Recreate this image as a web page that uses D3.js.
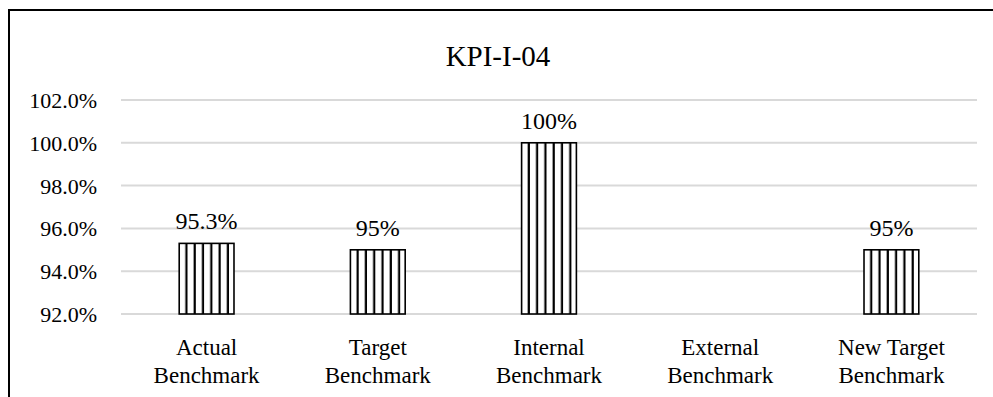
<!DOCTYPE html>
<html>
<head>
<meta charset="utf-8">
<script src="https://cdn.jsdelivr.net/npm/d3@7"></script>
<style>
  html, body { margin: 0; padding: 0; background: #fff; }
  svg { display: block; }
  svg text { font-family: "Liberation Serif", "DejaVu Serif", serif !important; fill: #000; }
</style>
</head>
<body>
<svg id="chart" width="993" height="397"></svg>
<script>
// KPI-I-04 benchmark comparison
const title = "KPI-I-04";
const categories = [
  ["Actual", "Benchmark"],
  ["Target", "Benchmark"],
  ["Internal", "Benchmark"],
  ["External", "Benchmark"],
  ["New Target", "Benchmark"]
];
const values = [0.953, 0.95, 1.00, null, 0.95];
const valueLabels = ["95.3%", "95%", "100%", "", "95%"];
const yTicks = [0.92, 0.94, 0.96, 0.98, 1.00, 1.02];

const svg = d3.select("#chart");
const W = 993, H = 397;
const plot = { left: 121, right: 977, top: 100, bottom: 314 };
const SERIF = "'Liberation Serif', serif";

// chart frame (top and left edges visible)
svg.append("path")
  .attr("d", `M9,${H} L9,10 L${W},10`)
  .attr("fill", "none")
  .attr("stroke", "#000")
  .attr("stroke-width", 2);

const x = d3.scaleBand()
  .domain(categories.map((c, i) => i))
  .range([plot.left, plot.right])
  .paddingInner(0.68)
  .paddingOuter(0.34);

const y = d3.scaleLinear()
  .domain([0.92, 1.02])
  .range([plot.bottom, plot.top]);

// gridlines
svg.append("g")
  .selectAll("line")
  .data(yTicks)
  .join("line")
  .attr("x1", plot.left)
  .attr("x2", plot.right)
  .attr("y1", d => y(d))
  .attr("y2", d => y(d))
  .attr("stroke", "#d9d9d9")
  .attr("stroke-width", 2);

// y axis labels
const yAxis = d3.axisLeft(y).tickValues(yTicks).tickFormat(d3.format(".1%")).tickSize(0).tickPadding(0);
const yg = svg.append("g").attr("transform", `translate(97,0)`).call(yAxis)
  .attr("font-family", SERIF).attr("font-size", 22);
yg.select(".domain").remove();
yg.selectAll("text")
  .style("font-family", SERIF)
  .style("font-size", "22px")
  .attr("dy", "0.34em");

// striped fill, one pattern per bar so stripes start at the bar edge
const defs = svg.append("defs");
const step = 8.3;
values.forEach((v, i) => {
  if (v == null) return;
  const p = defs.append("pattern")
    .attr("id", "stripe" + i)
    .attr("patternUnits", "userSpaceOnUse")
    .attr("x", x(i))
    .attr("y", 0)
    .attr("width", step)
    .attr("height", 10);
  p.append("rect").attr("width", step).attr("height", 10).attr("fill", "#fff");
  p.append("rect").attr("x", step - 2.2).attr("width", 2.2).attr("height", 10).attr("fill", "#000");
});

const barData = values.map((v, i) => ({ i, v })).filter(d => d.v != null);

svg.append("g")
  .selectAll("rect")
  .data(barData)
  .join("rect")
  .attr("x", d => x(d.i))
  .attr("width", x.bandwidth())
  .attr("y", d => y(d.v))
  .attr("height", d => y(0.92) - y(d.v))
  .attr("fill", d => `url(#stripe${d.i})`)
  .attr("stroke", "#000")
  .attr("stroke-width", 1.6);

// value labels
svg.append("g")
  .selectAll("text")
  .data(barData)
  .join("text")
  .attr("x", d => x(d.i) + x.bandwidth() / 2)
  .attr("y", d => y(d.v) - 14)
  .attr("text-anchor", "middle")
  .style("font-family", SERIF)
  .style("font-size", "24px")
  .text(d => valueLabels[d.i]);

// category labels (two lines)
const cg = svg.append("g")
  .selectAll("text")
  .data(categories)
  .join("text")
  .attr("x", (d, i) => x(i) + x.bandwidth() / 2)
  .attr("y", 355)
  .attr("text-anchor", "middle")
  .style("font-family", SERIF)
  .style("font-size", "23px");
cg.selectAll("tspan")
  .data(d => d)
  .join("tspan")
  .attr("x", function () { return this.parentNode.getAttribute("x"); })
  .attr("dy", (d, j) => j === 0 ? 0 : 28)
  .text(d => d);

// title
svg.append("text")
  .attr("x", 498)
  .attr("y", 66)
  .attr("text-anchor", "middle")
  .style("font-family", SERIF)
  .style("font-size", "29px")
  .text(title);
</script>
</body>
</html>
